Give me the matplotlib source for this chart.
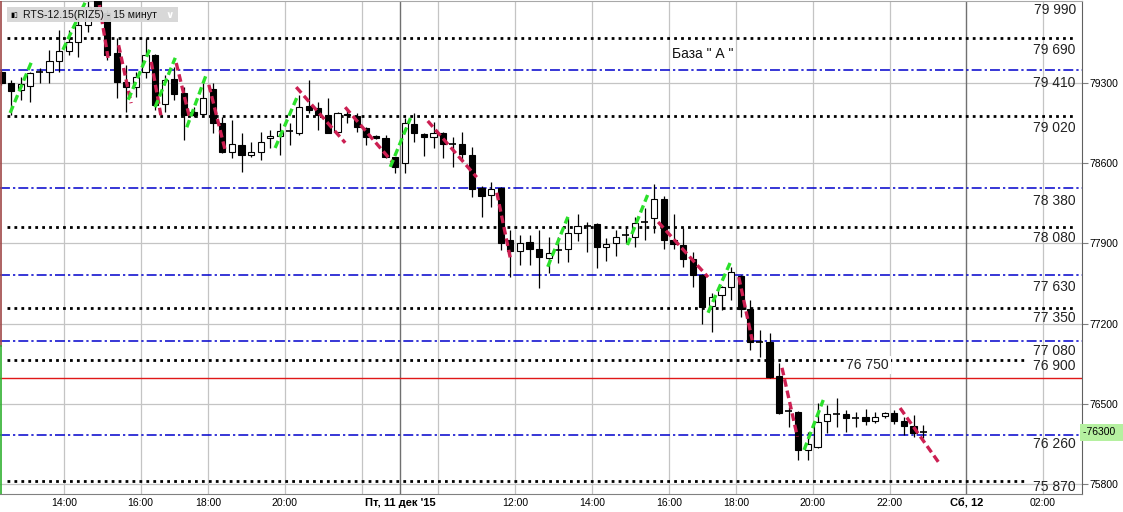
import matplotlib
matplotlib.use("Agg")
import matplotlib.pyplot as plt
import matplotlib.transforms as mtransforms
from matplotlib.patches import Rectangle
import numpy as np

plt.rcParams['font.family'] = ['Liberation Sans', 'DejaVu Sans']

# RTS-12.15 (RIZ5), 15 minute candles
opens = [79390, 79295, 79235, 79270, 79390, 79390, 79490, 79575, 79655, 79800,
         80060, 79905, 79555, 79305, 79260, 79390, 79540, 79115, 79330, 79210,
         79045, 79025, 79245, 78950, 78695, 78755, 78670, 78695, 78815, 78835,
         78880, 78860, 79095, 79080, 79015, 78870, 79025, 79010, 78905, 78835,
         78815, 78650, 78600, 78940, 78850, 78825, 78860, 78765, 78765, 78670,
         78380, 78320, 78380, 77930, 77835, 77910, 77850, 77770, 77840, 77850,
         77990, 78050, 78070, 77870, 77900, 77970, 77955, 78085, 78120, 78285,
         77930, 77885, 77765, 77625, 77355, 77450, 77520, 77615, 77330, 77040,
         77040, 76745, 76440, 76430, 76100, 76125, 76350, 76415, 76415, 76380,
         76385, 76350, 76395, 76420, 76350, 76310, 76255]
highs = [79410, 79320, 79350, 79390, 79425, 79585, 79760, 79760, 79890, 80050,
         80100, 79930, 79690, 79455, 79390, 79690, 79550, 79365, 79435, 79260,
         79085, 79295, 79295, 79000, 78975, 78860, 78780, 78870, 78885, 78950,
         78950, 79190, 79320, 79130, 79165, 79045, 79060, 79035, 78915, 78845,
         78845, 78655, 78990, 79035, 78860, 78955, 78865, 78825, 78870, 78740,
         78400, 78435, 78390, 78015, 77970, 77970, 78015, 77955, 77955, 78120,
         78155, 78085, 78075, 77945, 78015, 78035, 78130, 78205, 78415, 78310,
         78155, 78035, 77825, 77630, 77465, 77525, 77695, 77625, 77405, 77145,
         77120, 76855, 76475, 76435, 76255, 76510, 76490, 76550, 76450, 76430,
         76455, 76430, 76430, 76450, 76385, 76405, 76315]
lows = [79280, 79015, 79150, 79130, 79295, 79295, 79390, 79540, 79520, 79740,
        79890, 79495, 79165, 79045, 79175, 79340, 79060, 79045, 79150, 78800,
        79000, 79015, 78860, 78685, 78645, 78520, 78650, 78625, 78730, 78670,
        78755, 78845, 79035, 78885, 78860, 78870, 78950, 78870, 78755, 78810,
        78645, 78510, 78510, 78780, 78660, 78730, 78645, 78565, 78625, 78305,
        78130, 78215, 77840, 77605, 77710, 77710, 77510, 77640, 77730, 77735,
        77920, 77825, 77685, 77745, 77790, 77900, 77870, 77930, 77990, 77850,
        77850, 77695, 77520, 77195, 77125, 77320, 77405, 77260, 76970, 76910,
        76725, 76410, 76300, 76010, 76010, 76120, 76250, 76300, 76255, 76300,
        76315, 76335, 76380, 76325, 76230, 76215, 76205]
closes = [79295, 79225, 79285, 79385, 79390, 79490, 79575, 79655, 79800, 79960,
          79930, 79540, 79305, 79260, 79350, 79540, 79105, 79320, 79200, 79015,
          79015, 79165, 78950, 78695, 78765, 78670, 78695, 78780, 78835, 78880,
          78880, 79085, 79060, 79015, 78860, 79035, 79015, 78915, 78825, 78815,
          78650, 78565, 78950, 78860, 78825, 78860, 78765, 78765, 78680, 78375,
          78310, 78375, 77900, 77835, 77900, 77850, 77780, 77815, 77840, 77990,
          78050, 78050, 77870, 77895, 77955, 77970, 78075, 78085, 78285, 77930,
          77895, 77765, 77625, 77345, 77430, 77520, 77650, 77330, 77040, 77040,
          76735, 76420, 76440, 76100, 76150, 76345, 76415, 76415, 76380, 76380,
          76350, 76385, 76420, 76350, 76310, 76250, 76255]

# wave segments (candle index, price) start -> end
wave_i0 = [0.9, 6.4, 10.2, 12.2, 13.2, 15.6, 16.0, 18.2, 19.3, 21.6, 28.5, 30.7,
           35.8, 40.5, 44.4, 51.6, 56.9, 65.2, 68.4, 73.6, 76.8, 81.3, 83.6, 93.6]
wave_p0 = [79035, 79585, 79975, 79625, 79150, 79480, 79085, 79470, 78910, 79280,
           78730, 79260, 79085, 78565, 78965, 78340, 77695, 77885, 78085, 77295,
           77605, 76815, 76100, 76465]
wave_i1 = [3.2, 8.7, 11.1, 13.5, 15.5, 16.6, 18.1, 19.6, 21.4, 23.3, 30.8, 35.8,
           40.8, 42.6, 49.5, 53.0, 59.0, 67.3, 73.6, 75.9, 78.2, 82.9, 85.6, 97.8]
wave_p1 = [79495, 79995, 79515, 79120, 79600, 79015, 79515, 78990, 79385, 78710,
           79175, 78775, 78600, 78990, 78475, 77770, 78130, 78320, 77605, 77730,
           77055, 76215, 76535, 75970]

# levels
dotted_levels = [79690, 79010, 78040, 77340, 76880, 75830]
dotted_end = [111.8, 111.8, 111.8, 111.8, 106.8, 106.8]
blue_levels = [79410, 78380, 77620, 77050, 76230]
red_level = 76730

level_labels = ["79 990", "79 690", "79 410", "79 020", "78 380", "78 080",
                "77 630", "77 350", "77 080", "76 900", "76 260", "75 870"]
level_label_y = [79930, 79585, 79295, 78905, 78270, 77945,
                 77520, 77250, 76960, 76830, 76150, 75775]

price_ticks = [79300, 78600, 77900, 77200, 76500, 75800]
time_pos = [6.5, 14.5, 21.5, 29.5, 41.5, 53.5, 61.5, 69.5, 76.5, 84.5, 92.5, 100.5, 108.5]
time_labels = ["14:00", "16:00", "18:00", "20:00", "Пт, 11 дек '15", "12:00", "14:00",
               "16:00", "18:00", "20:00", "22:00", "Сб, 12", "02:00"]
grid_pos = [6.5, 14.5, 21.5, 29.5, 37.5, 45.5, 53.5, 61.5, 69.5, 76.5, 84.5, 92.5, 108.5]
day_pos = [41.5, 100.5]

fig = plt.figure(figsize=(11.23, 5.12), dpi=100)
ax = fig.add_axes([0, 18 / 512, 1082 / 1123, 493 / 512])
ax.set_xlim(-0.156, 112.55)
ax.set_ylim(75716, 80010)

# grid
for p in price_ticks:
    ax.axhline(p, color='#C4C4C4', lw=0.9, zorder=0)
for g in grid_pos:
    ax.axvline(g, color='#C4C4C4', lw=0.9, zorder=0)
for g in day_pos:
    ax.axvline(g, color='#707070', lw=1.0, zorder=0)

# levels
for lv, xe in zip(dotted_levels, dotted_end):
    ax.plot([0.6, xe], [lv, lv], color='black', lw=2.0, linestyle=(0, (1, 1.5)),
            dash_capstyle='butt', zorder=1)
for lv in blue_levels:
    ax.axhline(lv, color='#0000CC', lw=1.1, linestyle=(0, (6.5, 2, 1.5, 2)), zorder=1)
ax.axhline(red_level, color='#E01818', lw=1.0, zorder=1)

# candles
o = np.array(opens); h = np.array(highs); l = np.array(lows); c = np.array(closes)
idx = np.arange(len(o))
ax.vlines(idx, l, h, color='black', lw=0.9, zorder=2)
up = c > o
dn = c < o
dj = c == o
ax.bar(idx[up], (c - o)[up], bottom=o[up], width=0.65, color='white',
       edgecolor='black', linewidth=0.8, zorder=3)
ax.bar(idx[dn], (o - c)[dn], bottom=c[dn], width=0.65, color='black',
       edgecolor='black', linewidth=0.8, zorder=3)
ax.hlines(o[dj], idx[dj] - 0.36, idx[dj] + 0.36, color='black', lw=1.2, zorder=3)

# waves
for x0, y0, x1, y1 in zip(wave_i0, wave_p0, wave_i1, wave_p1):
    col = '#2BE02B' if y1 > y0 else '#CC1F52'
    ax.plot([x0, x1], [y0, y1], color=col, lw=2.4, linestyle=(0, (2.3, 1.2)),
            dash_capstyle='butt', zorder=4)

# texts
for t, y in zip(level_labels, level_label_y):
    ax.text(111.9, y, t, ha='right', va='center', fontsize=10, color='#222222', zorder=5)
ax.text(90.2, 76840, "76 750", ha='center', va='center', fontsize=10, color='#222222',
        bbox=dict(facecolor='white', edgecolor='none', pad=1.5), zorder=5)
ax.text(69.8, 79549, 'База " А "', ha='left', va='center', fontsize=10, color='#111111')

# title box
ax.add_patch(Rectangle((0.0065, 0.9574), 0.158, 0.0304, transform=ax.transAxes,
                       facecolor='#D6D6D6', edgecolor='none', alpha=0.95, zorder=6))
ax.text(0.0095, 0.9726, "▮▯", transform=ax.transAxes, fontsize=5, va='center',
        ha='left', family='DejaVu Sans', zorder=7)
ax.text(0.0213, 0.9726, "RTS-12.15(RIZ5) - 15 минут", transform=ax.transAxes,
        fontsize=7.6, va='center', ha='left', color='#111111', zorder=7)
ax.text(0.157, 0.9726, "∨", transform=ax.transAxes, fontsize=7.5, va='center',
        ha='center', color='white', fontweight='bold', family='DejaVu Sans', zorder=7)

# left edge marker
ax.axvline(-0.1, ymin=0.3, ymax=1.0, color='#A04848', lw=1.2, zorder=6)
ax.axvline(-0.1, ymin=0.0, ymax=0.3, color='#30B030', lw=1.2, zorder=6)

# axes styling
ax.spines['left'].set_visible(False)
ax.spines['top'].set_color('#A8A8A8')
ax.spines['bottom'].set_color('#808080')
ax.spines['right'].set_color('#606060')
ax.yaxis.tick_right()
ax.set_yticks(price_ticks)
ax.set_yticklabels([str(p) for p in price_ticks], fontsize=7.5)
ax.tick_params(axis='y', length=4, color='#808080', pad=1)
ax.set_xticks(time_pos)
ax.set_xticklabels(time_labels, fontsize=7.5)
ax.tick_params(axis='x', length=0, pad=3)
for lab in ax.get_xticklabels():
    if lab.get_text() in ("Пт, 11 дек '15", "Сб, 12"):
        lab.set_fontweight('bold')
        lab.set_fontsize(8)

# last price tag
tr = mtransforms.blended_transform_factory(ax.transAxes, ax.transData)
ax.text(1.001, closes[-1], "-76300   ", transform=tr, ha='left', va='center', fontsize=7.5,
        bbox=dict(facecolor='#B5F0A0', edgecolor='none', pad=2.5), clip_on=False, zorder=7)

fig.savefig('out.png', dpi=100)
